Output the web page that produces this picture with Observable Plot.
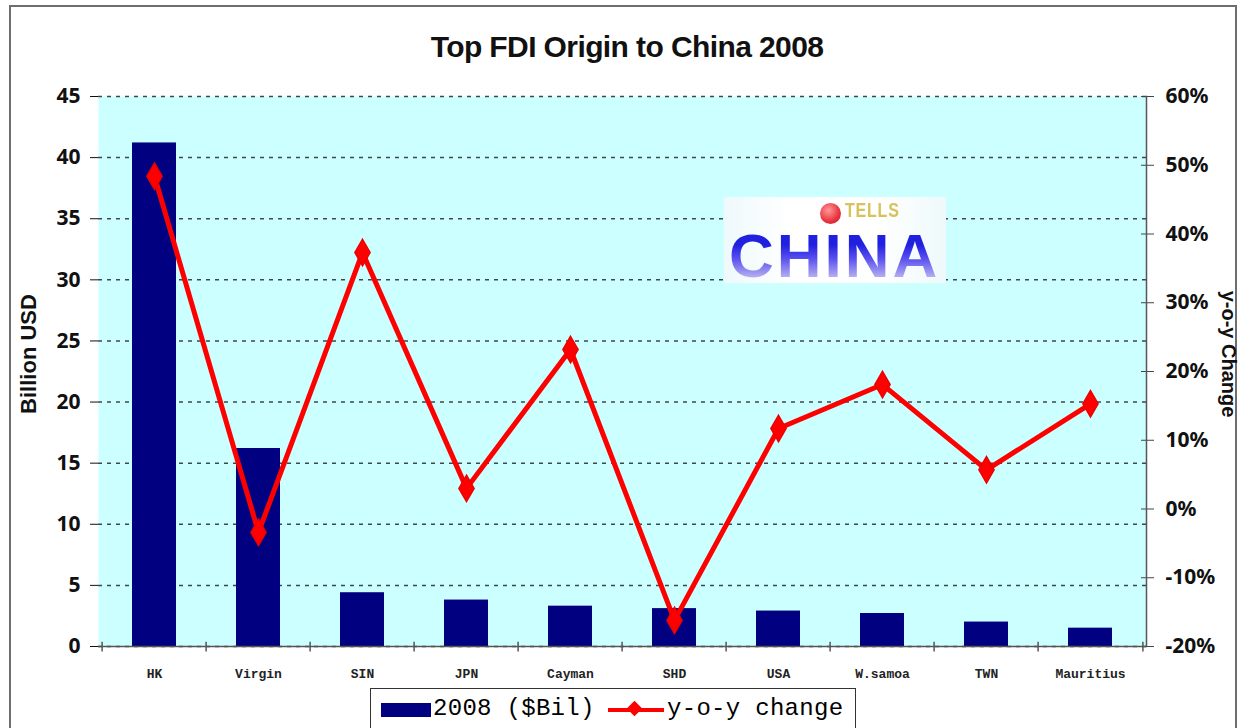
<!DOCTYPE html>
<html>
<head>
<meta charset="utf-8">
<script src="https://cdn.jsdelivr.net/npm/d3@7"></script>
<script src="https://cdn.jsdelivr.net/npm/@observablehq/plot@0.6"></script>
<style>
  html, body { margin: 0; padding: 0; background: #fff; }
  #wrap { position: relative; width: 1246px; height: 728px; overflow: hidden; background: #fff; font-family: "Liberation Sans", Arial, sans-serif; }
  #border { position: absolute; left: 9px; top: 5px; width: 1228px; height: 760px; border: 2px solid #6e6e6e; box-sizing: border-box; }
  #title { position: absolute; left: 0; width: 1254px; top: 30px; text-align: center; font-weight: bold; font-size: 30px; color: #111; letter-spacing: -0.6px; }
  #chart { position: absolute; left: 0; top: 0; }
  #ylab { position: absolute; left: 29px; top: 354px; transform: translate(-50%, -50%) rotate(-90deg); font-size: 22px; font-weight: bold; white-space: nowrap; color: #111; }
  #y2lab { position: absolute; left: 1228px; top: 354px; transform: translate(-50%, -50%) rotate(90deg); font-size: 20px; font-weight: bold; white-space: nowrap; color: #111; }
  #logo { position: absolute; left: 724px; top: 197px; width: 222px; height: 86px; background: linear-gradient(90deg, #eef9fb, #ffffff 30%, #ffffff 70%, #eef9fb); }
  #logo .dot { position: absolute; left: 96px; top: 6px; width: 21px; height: 21px; border-radius: 50%; background: radial-gradient(circle at 40% 35%, #ff9a9a, #e8323c 60%, #c0202a); }
  #logo .tells { position: absolute; left: 121px; top: 3px; font-size: 20px; line-height: 20px; font-weight: bold; color: #d8c25a; transform: scaleX(0.8); transform-origin: left; letter-spacing: 1px; }
  #logo .china { position: absolute; left: 5px; top: 31px; font-size: 62px; font-weight: 900; line-height: 56px; letter-spacing: 3px; background: linear-gradient(180deg, #2020e0 30%, #5a50f0 55%, #c9c4f0 95%); -webkit-background-clip: text; background-clip: text; color: transparent; }
  #legend { position: absolute; left: 370px; top: 688px; width: 486px; height: 60px; border: 1.5px solid #333; box-sizing: border-box; background: #fff; font-family: "Liberation Mono", "DejaVu Sans Mono", monospace; font-size: 24px; color: #000; }
  #legend .sw1 { position: absolute; left: 10px; top: 14px; width: 50px; height: 14px; background: #000080; }
  #legend .t1 { position: absolute; left: 62px; top: 6px; letter-spacing: 0.3px; }
  #legend .sw2 { position: absolute; left: 237px; top: 19px; width: 56px; height: 4px; background: #ff0000; }
  #legend .dia { position: absolute; left: 258px; top: 14px; width: 11px; height: 11px; background: #ff0000; transform: rotate(45deg); }
  #legend .t2 { position: absolute; left: 296px; top: 6px; letter-spacing: 0.3px; }
</style>
</head>
<body>
<div id="wrap">
  <div id="chart"></div>
  <div id="border"></div>
  <div id="title">Top FDI Origin to China 2008</div>
  <div id="ylab">Billion USD</div>
  <div id="y2lab">y-o-y Change</div>
  <div id="logo"><div class="dot"></div><div class="tells">TELLS</div><div class="china">CHINA</div></div>
  <div id="legend">
    <div class="sw1"></div><div class="t1">2008 ($Bil)</div>
    <div class="sw2"></div><div class="dia"></div><div class="t2">y-o-y change</div>
  </div>
</div>
<script>
// ---- Data ----
const origins = ["HK", "Virgin", "SIN", "JPN", "Cayman", "SHD", "USA", "W.samoa", "TWN", "Mauritius"];
const fdi2008 = [41.2, 16.2, 4.4, 3.8, 3.3, 3.1, 2.9, 2.7, 2.0, 1.5];          // billion USD
const yoyChange = [48.4, -3.4, 37.3, 3.0, 23.2, -16.2, 11.7, 18.1, 5.7, 15.3]; // percent
const leftTicks = [0, 5, 10, 15, 20, 25, 30, 35, 40, 45];
const rightTicks = [-20, -10, 0, 10, 20, 30, 40, 50, 60];

// ---- Build table ----
const rows = origins.map((o, i) => ({origin: o, fdi: fdi2008[i], yoy: yoyChange[i]}));

// map right axis (-20%..60%) onto left axis (0..45)
const yMax = 45, pMin = -20, pMax = 60;
const toLeft = p => (p - pMin) / (pMax - pMin) * yMax;
const toPct = v => v / yMax * (pMax - pMin) + pMin;

const W = 1246, H = 728;
const mL = 98, mR = 100, mT = 96, mB = 82;
const bw = (W - mL - mR) / origins.length;

const chart = Plot.plot({
  width: W,
  height: H,
  marginLeft: mL,
  marginRight: mR,
  marginTop: mT,
  marginBottom: mB,
  style: {background: "transparent", overflow: "visible"},
  x: {domain: origins, padding: 0},
  y: {domain: [0, yMax]},
  marks: [
    Plot.frame({fill: "#ccffff", stroke: null}),
    Plot.gridY(leftTicks, {stroke: "#333", strokeOpacity: 0.9, strokeWidth: 1.5, strokeDasharray: "4,5"}),
    Plot.barY(rows, {x: "origin", y: "fdi", fill: "#000080", insetLeft: 30, insetRight: 30}),
    // left axis
    Plot.axisY(leftTicks, {anchor: "left", tickSize: 8, tickPadding: 10, fontSize: 21, fontWeight: "bold", fill: "#111", stroke: "#111", label: null}),
    Plot.ruleX([0], {frameAnchor: "left", stroke: "#111", strokeWidth: 1.5}),
    // right axis
    Plot.axisY(rightTicks.map(toLeft), {anchor: "right", tickSize: 7, tickPadding: 12, fontSize: 21, fontWeight: "bold", fill: "#111", stroke: "#444", label: null,
      tickFormat: v => Math.round(toPct(v)) + "%"}),
    Plot.axisY(rightTicks.map(toLeft), {anchor: "right", tickSize: 6, dx: -6, text: null, stroke: "#444", label: null}),
    Plot.ruleY([0], {stroke: "#555", strokeWidth: 1.5}),
    Plot.frame({anchor: "right", stroke: "#555", strokeWidth: 1.5}),
    // x axis: labels at band centers, ticks at band boundaries
    Plot.axisX({tickSize: 0, tickPadding: 22, fontSize: 13, fontWeight: "bold", fontFamily: "Liberation Mono, monospace", fill: "#222", label: null,
      style: {letterSpacing: "1px"}}),
    Plot.ruleX(origins, {x: d => d, dx: -bw / 2, y1: -0.45, y2: 0.35, stroke: "#555", strokeWidth: 1.5}),
    Plot.ruleX(origins.slice(-1), {x: d => d, dx: bw / 2, y1: -0.45, y2: 0.35, stroke: "#555", strokeWidth: 1.5}),
    // y-o-y line on right scale
    Plot.line(rows, {x: "origin", y: d => toLeft(d.yoy), stroke: "#ff0000", strokeWidth: 5, strokeLinejoin: "miter"}),
    Plot.dot(rows, {x: "origin", y: d => toLeft(d.yoy), symbol: "diamond", r: 8, fill: "#ff0000", stroke: "#ee0000"})
  ]
});
document.getElementById("chart").appendChild(chart);
</script>
</body>
</html>
